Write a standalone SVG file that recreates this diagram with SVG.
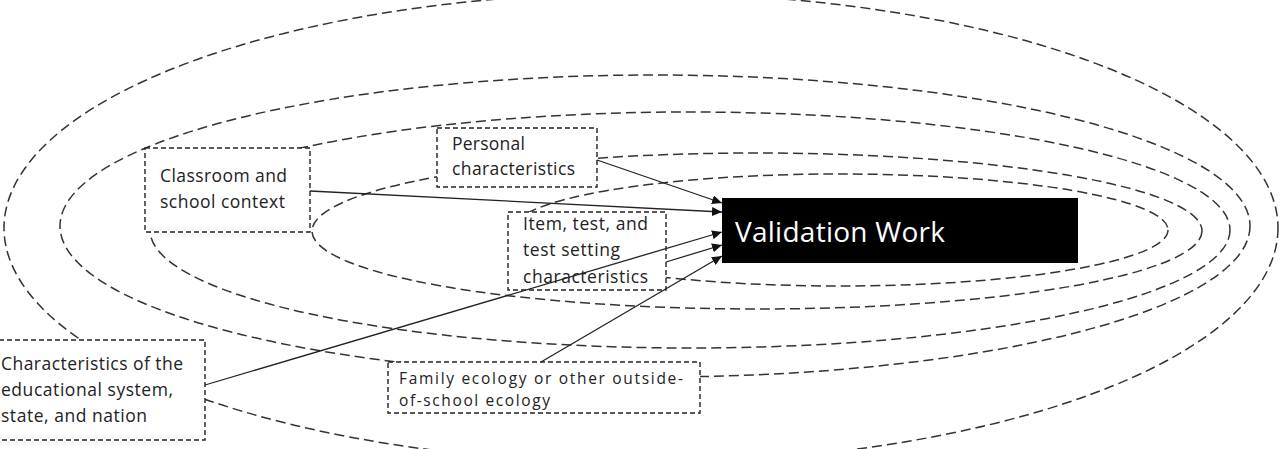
<svg xmlns="http://www.w3.org/2000/svg" width="1288" height="449" viewBox="0 0 1288 449">
<style>
.ring{fill:none;stroke:#333;stroke-width:1.5;stroke-dasharray:10 5}
.box{fill:#fff;stroke:#222;stroke-width:1.4;stroke-dasharray:5 3}
.lbl{font-family:"Open Sans","Liberation Sans",sans-serif;font-size:17.5px;fill:#222}
.sm{font-size:15.5px}
.conn{stroke:#222;stroke-width:1.3;fill:none;marker-end:url(#arr)}
</style>
<defs>
<marker id="arr" markerUnits="userSpaceOnUse" markerWidth="11" markerHeight="9" refX="10" refY="4.5" orient="auto">
<path d="M0,0 L10,4.5 L0,9 Z" fill="#111"/>
</marker>
</defs>
<rect width="1288" height="449" fill="#fff"/>
<g id="rings">
<ellipse class="ring" cx="641" cy="228" rx="637" ry="235"/>
<ellipse class="ring" cx="655" cy="226" rx="595" ry="151"/>
<ellipse class="ring" cx="690" cy="230" rx="540" ry="118"/>
<ellipse class="ring" cx="757" cy="231" rx="445" ry="78"/>
<ellipse class="ring" cx="840" cy="230" rx="328" ry="56"/>
</g>
<g id="classroom">
<rect class="box" x="145" y="148" width="165" height="84"/>
<text class="lbl" x="160" y="182" textLength="127" lengthAdjust="spacing">Classroom and</text>
<text class="lbl" x="160" y="208" textLength="125" lengthAdjust="spacing">school context</text>
</g>
<g id="personal">
<rect class="box" x="437" y="128" width="160" height="59"/>
<text class="lbl" x="452" y="150" textLength="73" lengthAdjust="spacing">Personal</text>
<text class="lbl" x="452" y="175" textLength="123" lengthAdjust="spacing">characteristics</text>
</g>
<g id="item">
<rect class="box" x="508" y="212" width="158" height="78"/>
<text class="lbl" x="523" y="230" textLength="125" lengthAdjust="spacing">Item, test, and</text>
<text class="lbl" x="523" y="256" textLength="97" lengthAdjust="spacing">test setting</text>
<text class="lbl" x="523" y="283" textLength="125" lengthAdjust="spacing">characteristics</text>
</g>
<g id="system">
<rect class="box" x="-1" y="340" width="206" height="100"/>
<text class="lbl" x="1" y="370" textLength="182" lengthAdjust="spacing">Characteristics of the</text>
<text class="lbl" x="1" y="396" textLength="172" lengthAdjust="spacing">educational system,</text>
<text class="lbl" x="1" y="422" textLength="146" lengthAdjust="spacing">state, and nation</text>
</g>
<g id="family">
<rect class="box" x="388" y="362" width="312" height="51"/>
<text class="lbl sm" x="399" y="384" textLength="284" lengthAdjust="spacing">Family ecology or other outside-</text>
<text class="lbl sm" x="399" y="406" textLength="151" lengthAdjust="spacing">of-school ecology</text>
</g>
<g id="validation">
<rect x="722" y="198" width="356" height="65" fill="#000"/>
<text x="735" y="242" font-family="'Open Sans','Liberation Sans',sans-serif" font-size="28" fill="#fff" textLength="210" lengthAdjust="spacing">Validation Work</text>
</g>
<g id="connectors">
<line class="conn" x1="597" y1="160" x2="722" y2="203"/>
<line class="conn" x1="310" y1="191" x2="722" y2="212"/>
<line class="conn" x1="205" y1="385" x2="722" y2="232"/>
<line class="conn" x1="666" y1="262" x2="722" y2="245"/>
<line class="conn" x1="541" y1="362" x2="722" y2="256"/>
</g>
</svg>
